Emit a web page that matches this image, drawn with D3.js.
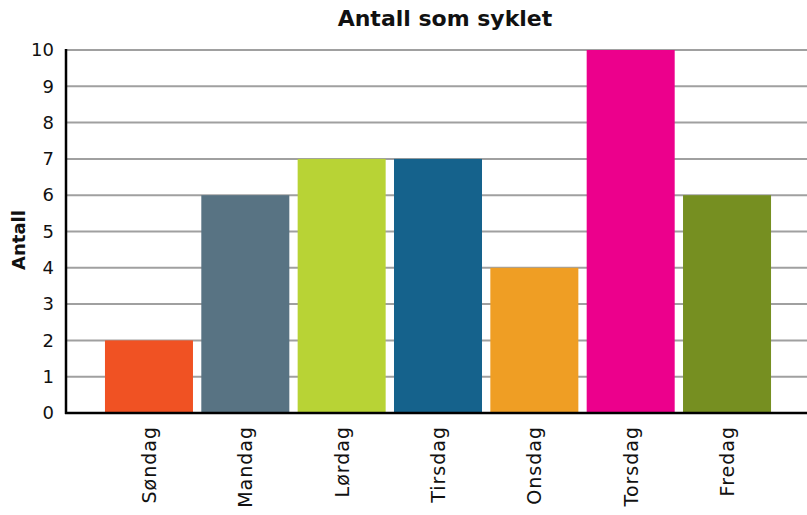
<!DOCTYPE html>
<html>
<head>
<meta charset="utf-8">
<script src="https://cdn.jsdelivr.net/npm/d3@7"></script>
<style>
  body { margin: 0; background: #fff; }
  svg text { font-family: "DejaVu Sans", "Noto Sans", sans-serif; fill: #111; }
</style>
</head>
<body>
<script>
// data
var days = ["Søndag", "Mandag", "Lørdag", "Tirsdag", "Onsdag", "Torsdag", "Fredag"];
var counts = [2, 6, 7, 7, 4, 10, 6];
var colors = ["#F05223", "#587383", "#B8D335", "#15628C", "#EF9E24", "#EC008C", "#768F21"];
var yTicks = [0, 1, 2, 3, 4, 5, 6, 7, 8, 9, 10];
var title = "Antall som syklet";
var yTitle = "Antall";

var width = 807, height = 515;
var margin = {left: 66, right: 0, top: 50, bottom: 102};

var svg = d3.select("body").append("svg").attr("width", width).attr("height", height);

var y = d3.scaleLinear()
            .domain([0, 10])
            .range([height - margin.bottom, margin.top]);

var x = d3.scaleBand()
            .domain(days)
            .range([100.8, 775.2])
            .paddingInner(0.0865)
            .paddingOuter(0.04325);

// grid
svg.append("g").selectAll("line")
    .data(yTicks.filter(function(d){ return d > 0; }))
    .enter().append("line")
    .attr("x1", margin.left).attr("x2", width)
    .attr("y1", function(d){ return y(d); })
    .attr("y2", function(d){ return y(d); })
    .attr("stroke", "#a0a0a0")
    .attr("stroke-width", 2);

// bars
svg.append("g").selectAll("rect")
    .data(counts)
    .enter().append("rect")
    .attr("x", function(d, i){ return x(days[i]); })
    .attr("width", x.bandwidth())
    .attr("y", function(d){ return y(d); })
    .attr("height", function(d){ return y(0) - y(d); })
    .attr("fill", function(d, i){ return colors[i]; });

// y axis
var yAxis = d3.axisLeft(y).tickValues(yTicks).tickSize(0).tickPadding(12);
var yg = svg.append("g").attr("transform", "translate(" + margin.left + ",0)").call(yAxis);
yg.select(".domain").remove();
yg.selectAll("text")
    .style("font-family", "'DejaVu Sans', sans-serif")
    .style("font-size", "18px")
    .attr("fill", "#111");

// x axis
var xAxis = d3.axisBottom(x).tickSize(0);
var xg = svg.append("g").attr("transform", "translate(0," + y(0) + ")").call(xAxis);
xg.select(".domain").remove();
xg.selectAll("text")
    .style("font-family", "'DejaVu Sans', sans-serif")
    .style("font-size", "19px")
    .style("letter-spacing", "1px")
    .attr("fill", "#111")
    .attr("text-anchor", "end")
    .attr("transform", "rotate(-90)")
    .attr("x", -13)
    .attr("y", 0)
    .attr("dy", "0.36em");

// axis lines
svg.append("line")
    .attr("x1", margin.left).attr("x2", margin.left)
    .attr("y1", y(10) - 1).attr("y2", y(0) + 1)
    .attr("stroke", "#000").attr("stroke-width", 2.5);
svg.append("line")
    .attr("x1", margin.left - 1).attr("x2", width)
    .attr("y1", y(0)).attr("y2", y(0))
    .attr("stroke", "#000").attr("stroke-width", 2.5);

// titles
svg.append("text")
    .attr("x", 445).attr("y", 26)
    .attr("text-anchor", "middle")
    .style("font-size", "22px").style("font-weight", "bold")
    .text(title);

svg.append("text")
    .attr("transform", "translate(25," + 240 + ") rotate(-90)")
    .attr("text-anchor", "middle")
    .style("font-size", "18px").style("font-weight", "bold")
    .text(yTitle);
</script>
</body>
</html>
